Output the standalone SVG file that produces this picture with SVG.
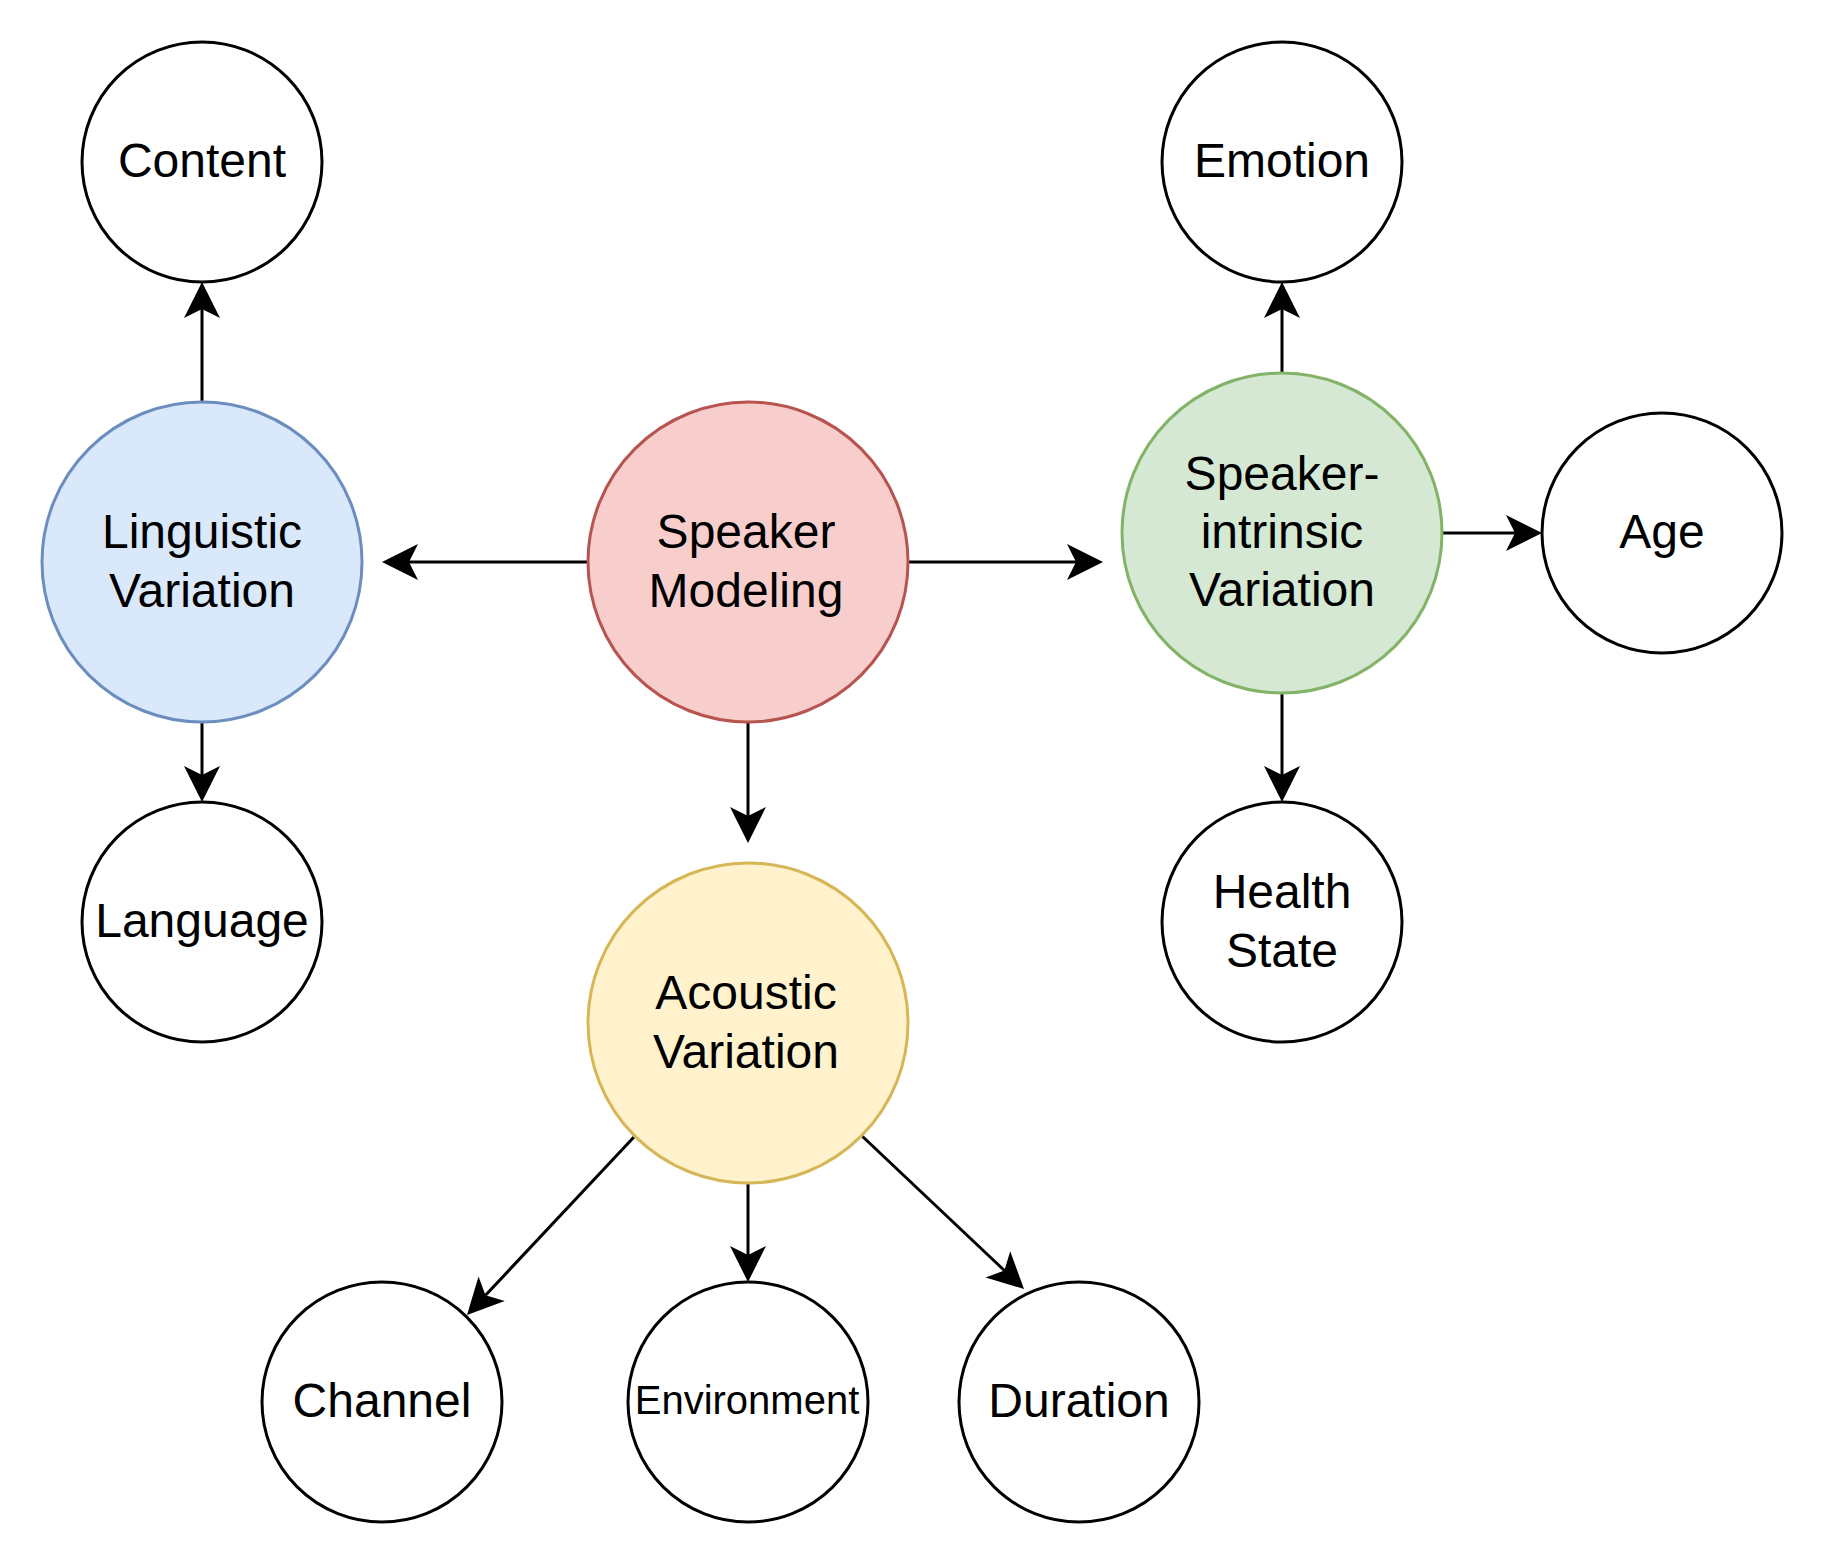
<svg xmlns="http://www.w3.org/2000/svg" width="1828" height="1568" viewBox="0 0 1828 1568">
  <style>
    .n { stroke-width: 3; }
    .plain { fill: #ffffff; stroke: #000000; }
    .blue { fill: #dae8fc; stroke: #6c8ebf; }
    .red { fill: #f8cecc; stroke: #b85450; }
    .green { fill: #d5e8d4; stroke: #82b366; }
    .yellow { fill: #fff2cc; stroke: #d6b656; }
    text { font-family: "Liberation Sans", Arial, Helvetica, sans-serif; font-size: 48px; fill: #000000; text-anchor: middle; }
    .small { font-size: 40px; }
    .edge { stroke: #000000; stroke-width: 3; fill: none; marker-end: url(#arrow); }
  </style>
  <defs>
    <marker id="arrow" markerUnits="userSpaceOnUse" markerWidth="40" markerHeight="40" viewBox="-1 -20 40 40" refX="9" refY="0" orient="auto">
      <path d="M0,-18 L36,0 L0,18 L9,0 Z" fill="#000000" stroke="none"/>
    </marker>
  </defs>
  <rect x="0" y="0" width="1828" height="1568" fill="#ffffff"/>

  <g id="connectors">
    <line class="edge" x1="202" y1="402" x2="202" y2="309"/>
    <line class="edge" x1="202" y1="722" x2="202" y2="775"/>
    <line class="edge" x1="588" y1="562" x2="409" y2="562"/>
    <line class="edge" x1="908" y1="562" x2="1076" y2="562"/>
    <line class="edge" x1="748" y1="722" x2="748" y2="816"/>
    <line class="edge" x1="1282" y1="373" x2="1282" y2="309"/>
    <line class="edge" x1="1442" y1="533" x2="1515" y2="533"/>
    <line class="edge" x1="1282" y1="693" x2="1282" y2="775"/>
    <line class="edge" x1="748" y1="1183" x2="748" y2="1255"/>
    <line class="edge" x1="634" y1="1137" x2="485.5" y2="1295.3"/>
    <line class="edge" x1="862" y1="1136" x2="1004.4" y2="1270.5"/>
  </g>

  <g id="content">
    <circle class="n plain" cx="202" cy="162" r="120"/>
    <text x="202" y="177">Content</text>
  </g>
  <g id="emotion">
    <circle class="n plain" cx="1282" cy="162" r="120"/>
    <text x="1282" y="177">Emotion</text>
  </g>
  <g id="linguistic">
    <circle class="n blue" cx="202" cy="562" r="160"/>
    <text x="202" y="548">Linguistic</text>
    <text x="202" y="607">Variation</text>
  </g>
  <g id="speaker-modeling">
    <circle class="n red" cx="748" cy="562" r="160"/>
    <text x="746" y="548">Speaker</text>
    <text x="746" y="607">Modeling</text>
  </g>
  <g id="speaker-intrinsic">
    <circle class="n green" cx="1282" cy="533" r="160"/>
    <text x="1282" y="490">Speaker-</text>
    <text x="1282" y="548">intrinsic</text>
    <text x="1282" y="606">Variation</text>
  </g>
  <g id="age">
    <circle class="n plain" cx="1662" cy="533" r="120"/>
    <text x="1662" y="548">Age</text>
  </g>
  <g id="language">
    <circle class="n plain" cx="202" cy="922" r="120"/>
    <text x="202" y="937">Language</text>
  </g>
  <g id="health-state">
    <circle class="n plain" cx="1282" cy="922" r="120"/>
    <text x="1282" y="908">Health</text>
    <text x="1282" y="967">State</text>
  </g>
  <g id="acoustic">
    <circle class="n yellow" cx="748" cy="1023" r="160"/>
    <text x="746" y="1009">Acoustic</text>
    <text x="746" y="1068">Variation</text>
  </g>
  <g id="channel">
    <circle class="n plain" cx="382" cy="1402" r="120"/>
    <text x="382" y="1417">Channel</text>
  </g>
  <g id="environment">
    <circle class="n plain" cx="748" cy="1402" r="120"/>
    <text class="small" x="747" y="1414">Environment</text>
  </g>
  <g id="duration">
    <circle class="n plain" cx="1079" cy="1402" r="120"/>
    <text x="1079" y="1417">Duration</text>
  </g>
</svg>
